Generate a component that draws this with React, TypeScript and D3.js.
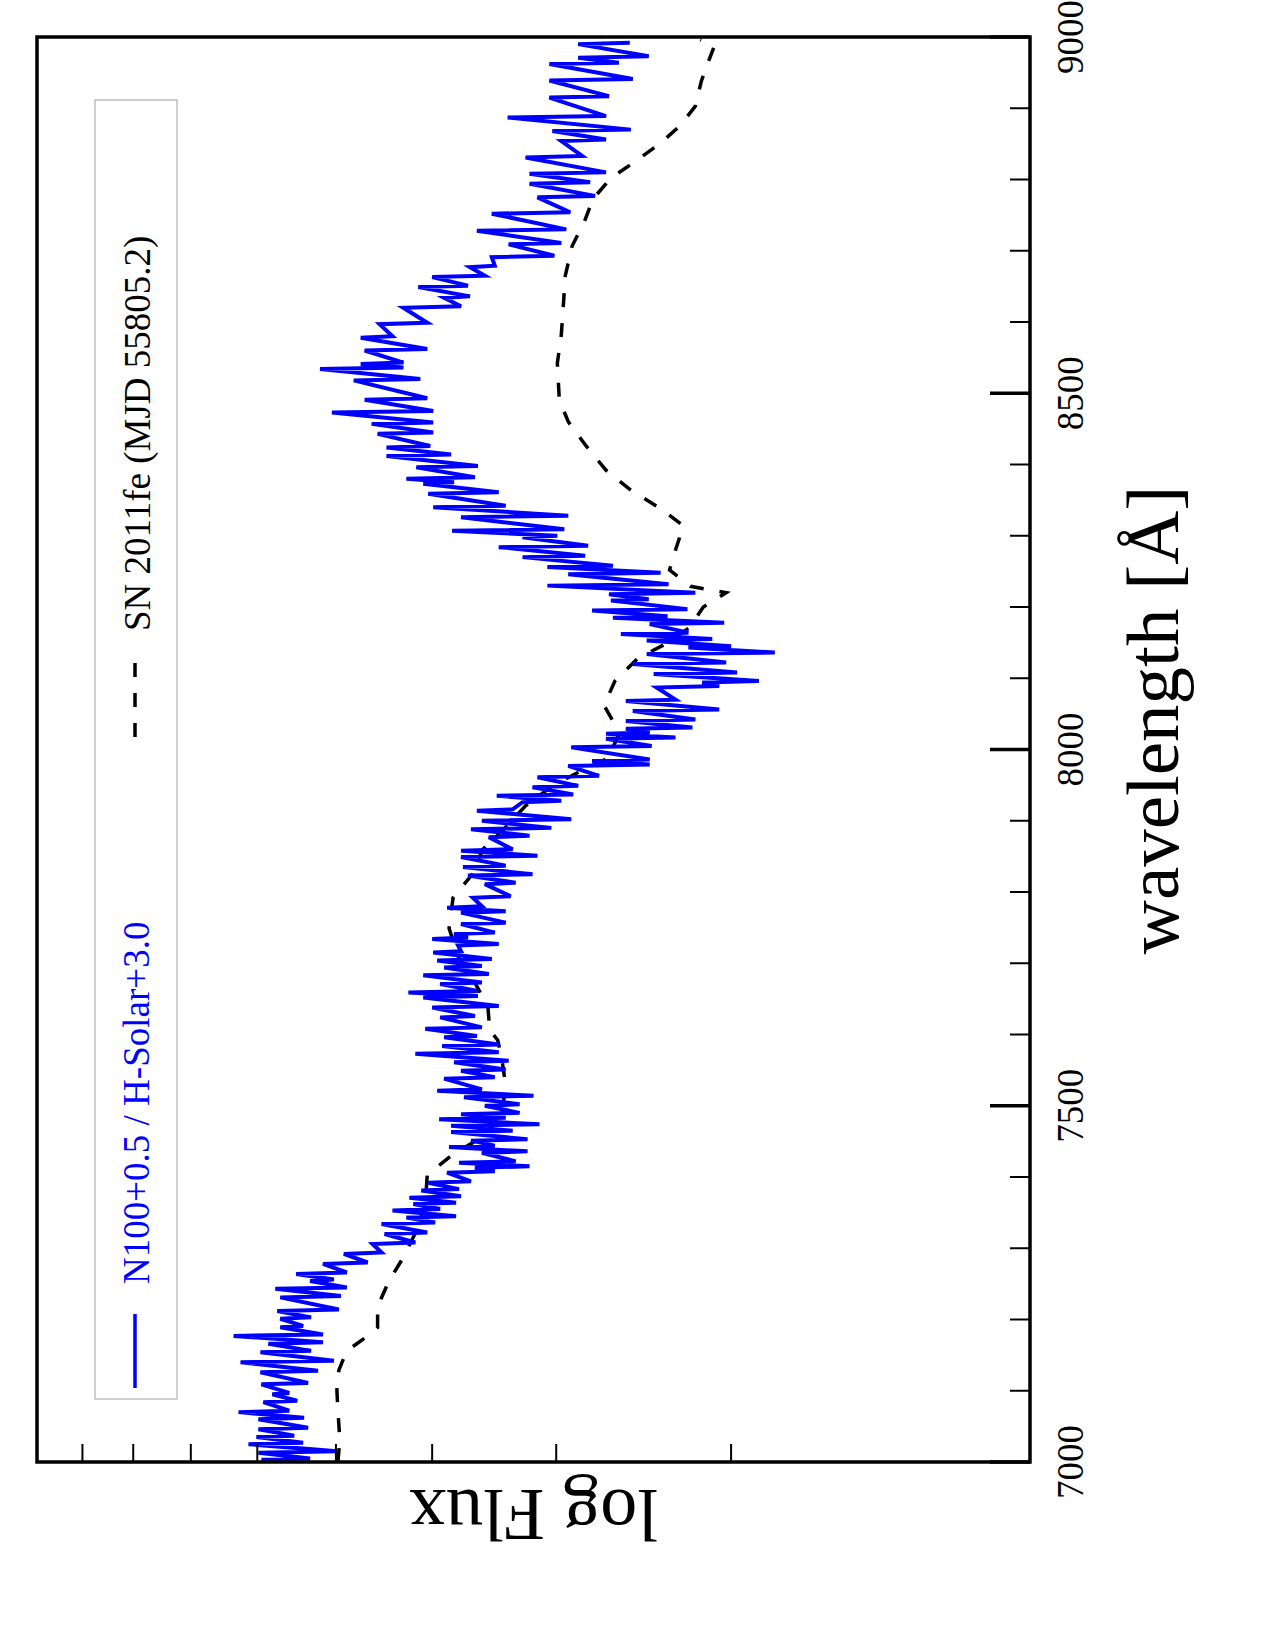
import React from "react";
import * as d3 from "d3";

// Wavelength axis (Å) — drawn vertically, increasing upward
const waveMajorTicks = [7000, 7500, 8000, 8500, 9000];
const waveMinorTicks = d3.range(7000, 9001, 100);
// log Flux axis — one decade, drawn horizontally, increasing leftward
const fluxTickValues = [1, 2, 3, 4, 5, 6, 7, 8, 9, 10];

const seriesLabels = ["N100+0.5 / H-Solar+3.0", "SN 2011fe (MJD 55805.2)"];

// [wavelength Å, log10 flux] — N100 model spectrum
const n100Spectrum: [number, number][] = [
  [7003,.774],[7005,.725],[7013,.777],[7015,.698],[7025,.787],[7027,.732],
  [7035,.779],[7037,.741],[7046,.777],[7048,.727],[7060,.777],[7062,.731],
  [7070,.797],[7072,.746],[7084,.772],[7086,.738],[7095,.763],[7097,.746],
  [7109,.774],[7111,.727],[7126,.775],[7128,.717],[7140,.795],[7142,.701],
  [7154,.775],[7156,.724],[7166,.767],[7168,.712],[7177,.802],[7179,.712],
  [7189,.755],[7191,.732],[7201,.755],[7203,.724],[7212,.758],[7214,.696],
  [7231,.755],[7233,.694],[7243,.760],[7245,.688],[7254,.725],[7256,.701],
  [7264,.739],[7266,.688],[7278,.712],[7280,.667],[7292,.691],[7294,.653],
  [7306,.662],[7308,.619],[7320,.650],[7322,.607],[7334,.653],[7336,.599],
  [7343,.628],[7345,.578],[7353,.642],[7355,.594],[7362,.621],[7364,.578],
  [7371,.625],[7373,.573],[7381,.613],[7383,.575],[7392,.606],[7394,.563],
  [7406,.587],[7408,.539],[7413,.559],[7415,.504],[7420,.575],[7422,.518],
  [7434,.552],[7436,.506],[7442,.585],[7444,.539],[7451,.563],[7453,.506],
  [7463,.583],[7465,.521],[7472,.583],[7474,.494],[7481,.595],[7483,.528],
  [7488,.573],[7490,.514],[7500,.549],[7502,.514],[7512,.570],[7514,.500],
  [7521,.597],[7523,.552],[7538,.590],[7540,.539],[7549,.573],[7551,.528],
  [7561,.580],[7563,.525],[7573,.619],[7575,.535],[7584,.592],[7586,.535],
  [7596,.590],[7598,.557],[7608,.609],[7610,.552],[7624,.594],[7626,.559],
  [7638,.602],[7640,.535],[7652,.611],[7654,.556],[7659,.626],[7661,.556],
  [7671,.594],[7673,.552],[7683,.611],[7685,.545],[7694,.590],[7696,.552],
  [7704,.597],[7706,.542],[7715,.601],[7717,.573],[7725,.576],[7727,.535],
  [7734,.602],[7736,.566],[7741,.580],[7743,.539],[7755,.573],[7757,.528],
  [7771,.573],[7773,.528],[7778,.587],[7780,.552],[7792,.561],[7794,.523],
  [7811,.549],[7813,.518],[7823,.566],[7825,.501],[7835,.571],[7837,.528],
  [7849,.573],[7851,.496],[7858,.573],[7860,.521],[7877,.545],[7879,.504],
  [7888,.563],[7890,.482],[7900,.552],[7902,.462],[7914,.557],[7916,.521],
  [7926,.511],[7928,.472],[7935,.537],[7937,.460],[7947,.501],[7949,.455],
  [7961,.496],[7963,.434],[7977,.465],[7979,.383],[7984,.441],[7986,.383],
  [8003,.462],[8005,.381],[8015,.427],[8017,.357],[8022,.427],[8024,.383],
  [8029,.407],[8031,.340],[8040,.407],[8042,.337],[8054,.400],[8056,.313],
  [8068,.407],[8070,.357],[8087,.376],[8089,.313],[8094,.330],[8096,.273],
  [8106,.379],[8108,.295],[8120,.400],[8122,.306],[8134,.386],[8136,.257],
  [8143,.344],[8145,.301],[8153,.386],[8155,.320],[8162,.412],[8164,.344],
  [8176,.383],[8178,.308],[8185,.420],[8187,.365],[8195,.441],[8197,.345],
  [8209,.422],[8211,.384],[8218,.424],[8220,.337],[8230,.486],[8232,.364],
  [8246,.465],[8248,.372],[8256,.486],[8258,.420],[8270,.511],[8272,.448],
  [8284,.535],[8286,.445],[8298,.511],[8300,.476],[8307,.582],[8309,.469],
  [8326,.573],[8328,.465],[8340,.601],[8342,.528],[8359,.606],[8361,.535],
  [8373,.611],[8375,.580],[8380,.628],[8382,.559],[8396,.618],[8398,.556],
  [8412,.648],[8414,.583],[8424,.648],[8426,.604],[8443,.657],[8445,.601],
  [8457,.663],[8459,.601],[8473,.703],[8475,.601],[8491,.670],[8493,.607],
  [8518,.681],[8520,.614],[8534,.715],[8536,.631],[8541,.674],[8543,.631],
  [8560,.670],[8562,.607],[8578,.674],[8580,.642],[8597,.655],[8599,.607],
  [8620,.631],[8622,.573],[8634,.590],[8636,.564],[8649,.616],[8651,.566],
  [8663,.602],[8665,.549],[8677,.564],[8679,.539],[8691,.542],[8693,.479],
  [8709,.525],[8711,.472],[8728,.557],[8730,.467],[8752,.542],[8754,.463],
  [8775,.496],[8777,.438],[8794,.504],[8796,.443],[8808,.504],[8810,.427],
  [8831,.508],[8833,.451],[8854,.472],[8856,.427],[8868,.481],[8870,.402],
  [8887,.526],[8889,.427],[8915,.484],[8917,.424],[8939,.484],[8941,.400],
  [8962,.484],[8964,.414],[8971,.455],[8973,.384],[8990,.455],[8992,.403],
];

// [wavelength Å, log10 flux] — SN 2011fe observed spectrum
const sn2011feSpectrum: [number, number][] = [
  [7000,.697],[7031,.695],[7073,.697],[7101,.698],[7129,.696],[7146,.691],
  [7161,.683],[7175,.669],[7189,.657],[7218,.657],[7253,.646],[7285,.632],
  [7321,.619],[7361,.609],[7403,.607],[7431,.582],[7455,.553],[7486,.531],
  [7508,.530],[7528,.528],[7567,.532],[7592,.536],[7606,.544],[7640,.546],
  [7675,.560],[7710,.576],[7749,.585],[7792,.581],[7824,.562],[7860,.551],
  [7891,.528],[7921,.508],[7949,.481],[7970,.452],[7987,.426],[8023,.413],
  [8062,.429],[8096,.418],[8128,.395],[8148,.367],[8171,.343],[8200,.329],
  [8220,.306],[8229,.342],[8252,.363],[8280,.357],[8314,.349],[8339,.373],
  [8364,.402],[8392,.427],[8426,.447],[8460,.465],[8491,.474],[8542,.476],
  [8582,.472],[8622,.470],[8665,.468],[8707,.461],[8740,.449],[8773,.440],
  [8802,.422],[8825,.398],[8851,.372],[8876,.352],[8903,.337],[8938,.331],
  [8965,.324],[8987,.318],[8996,.332],
];

const W = 1275;
const H = 1650;
const frame = { left: 37, right: 1030, top: 37, bottom: 1462 };
const serif = "'Liberation Serif', 'DejaVu Serif', 'Times New Roman', serif";

export default function App() {
  const yWave = d3.scaleLinear().domain([7000, 9000]).range([frame.bottom, frame.top]);
  const xFlux = d3.scaleLog().domain([1, 10]).range([frame.right, frame.left]);

  const line = d3
    .line<[number, number]>()
    .x((d) => xFlux(Math.pow(10, d[1])))
    .y((d) => yWave(d[0]));

  const midX = (frame.left + frame.right) / 2;

  return (
    <svg
      width={W}
      height={H}
      viewBox={`0 0 ${W} ${H}`}
      style={{ position: "absolute", left: 0, top: 0, background: "#fff" }}
    >
      <defs>
        <clipPath id="plot-area">
          <rect x={frame.left} y={frame.top} width={frame.right - frame.left} height={frame.bottom - frame.top} />
        </clipPath>
      </defs>
      <rect x={0} y={0} width={W} height={H} fill="#fff" />

      {/* spectra */}
      <g clipPath="url(#plot-area)" fill="none">
        <path
          d={line(sn2011feSpectrum) || ""}
          stroke="#000"
          strokeWidth={3.5}
          strokeDasharray="14 16"
        />
        <path d={line(n100Spectrum) || ""} stroke="#0000ff" strokeWidth={4} strokeLinejoin="miter" />
      </g>

      {/* wavelength ticks on the right edge */}
      <g stroke="#000">
        {waveMinorTicks.map((t) => {
          const major = waveMajorTicks.includes(t);
          return (
            <line
              key={`w${t}`}
              x1={frame.right}
              x2={frame.right - (major ? 40 : 20)}
              y1={yWave(t)}
              y2={yWave(t)}
              strokeWidth={major ? 3.5 : 2}
            />
          );
        })}
      </g>

      {/* log flux ticks on the bottom edge */}
      <g stroke="#000" strokeWidth={2}>
        {fluxTickValues.map((v) => (
          <line
            key={`f${v}`}
            x1={xFlux(v)}
            x2={xFlux(v)}
            y1={frame.bottom}
            y2={frame.bottom - 18}
          />
        ))}
      </g>

      {/* frame */}
      <rect
        x={frame.left}
        y={frame.top}
        width={frame.right - frame.left}
        height={frame.bottom - frame.top}
        fill="none"
        stroke="#000"
        strokeWidth={3.5}
      />

      {/* wavelength tick labels */}
      <g fontFamily={serif} fontSize={37} fill="#000">
        {waveMajorTicks.map((t) => (
          <text
            key={`l${t}`}
            transform={`translate(${1083},${yWave(t)}) rotate(-90)`}
            textAnchor="middle"
          >
            {t}
          </text>
        ))}
      </g>

      {/* axis titles */}
      <text
        transform={`translate(${1178},${720}) rotate(-90)`}
        textAnchor="middle"
        fontFamily={serif}
        fontSize={75}
        fill="#000"
      >
        wavelength [Å]
      </text>
      <text
        transform={`translate(${midX},${1490}) rotate(180)`}
        textAnchor="middle"
        fontFamily={serif}
        fontSize={74}
        fill="#000"
      >
        log Flux
      </text>

      {/* legend */}
      <g>
        <rect x={95} y={100} width={82} height={1299} fill="#fff" stroke="#c0c0c0" strokeWidth={1.5} />
        <line x1={135} x2={135} y1={1388} y2={1314} stroke="#0000ff" strokeWidth={3.5} />
        <text
          transform={`translate(${149},${1284}) rotate(-90)`}
          fontFamily={serif}
          fontSize={37}
          fill="#0000ff"
        >
          {seriesLabels[0]}
        </text>
        <line x1={135} x2={135} y1={737} y2={661} stroke="#000" strokeWidth={3.5} strokeDasharray="14 16" />
        <text
          transform={`translate(${150},${631}) rotate(-90)`}
          fontFamily={serif}
          fontSize={37}
          fill="#000"
        >
          {seriesLabels[1]}
        </text>
      </g>
    </svg>
  );
}
